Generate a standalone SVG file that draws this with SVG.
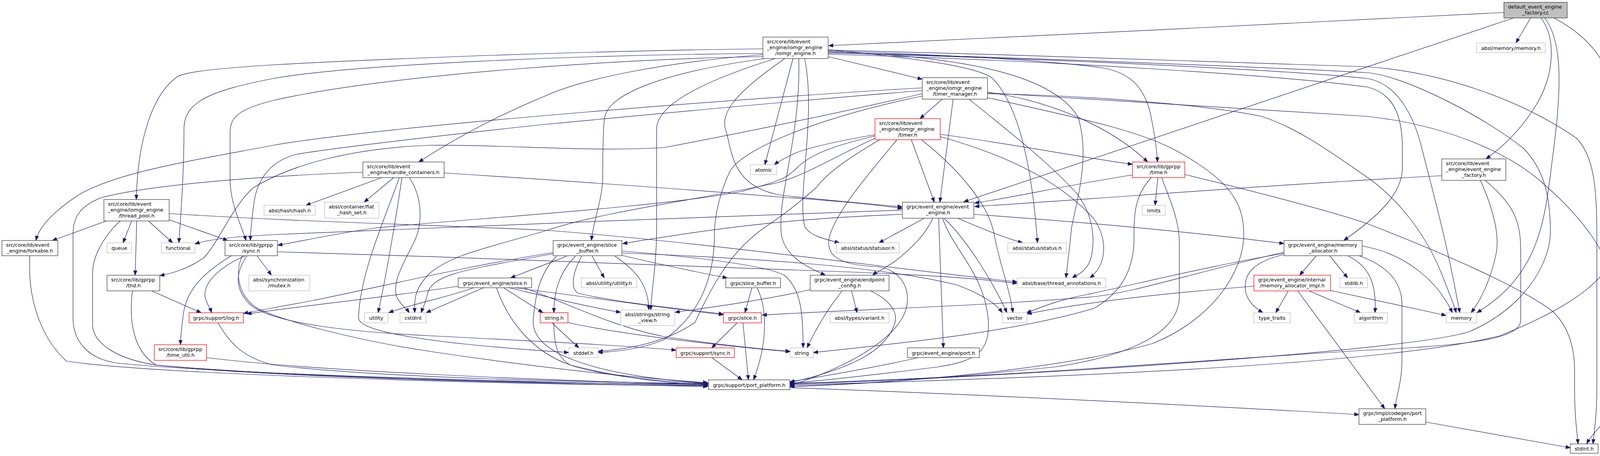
<svg xmlns="http://www.w3.org/2000/svg" width="4203" height="1168" viewBox="0 0 4203 1168">
<defs>
<marker id="ah" markerUnits="userSpaceOnUse" markerWidth="13" markerHeight="10" refX="12" refY="4.5" orient="auto" viewBox="0 0 13 9"><path d="M0,0 L12,4.5 L0,9 z" fill="#191970" stroke="#191970" stroke-width="1"/></marker>
</defs>
<style>
.n rect{fill:#ffffff;stroke:#404040;stroke-width:1.3}
.x rect{stroke:#bfbfbf}
.r rect{stroke:#ff0000}
.root rect{fill:#bfbfbf}
text{font-family:"DejaVu Sans","Liberation Sans",sans-serif;font-size:12.8px;fill:#000000}
.m{text-anchor:middle}
#edges path{fill:none;stroke:#191970;stroke-width:1.2;marker-end:url(#ah)}
</style>
<rect x="0" y="0" width="4203" height="1168" fill="#ffffff"/>
<g id="edges">
<path d="M3850,32 C3400,55 2600,95 2121,117"/>
<path d="M3875,46 C3400,205 2900,370 2467,517"/>
<path d="M3918,46 C3905,70 3892,90 3881,110"/>
<path d="M3945,46 C3985,100 3978,190 3935,265 C3890,340 3835,385 3804,407"/>
<path d="M3954,46 C4005,110 3995,250 3975,400 C3955,560 3945,700 3781,801"/>
<path d="M3978,46 C4100,110 4143,200 4143,350 L4143,600 C4143,700 4040,780 3840,860 C3600,920 3000,960 2022,986"/>
<path d="M2120,145 L2361,203"/>
<path d="M1953,125 C1400,132 900,155 700,166 C560,175 480,183 455,196 C390,240 352,360 349,511"/>
<path d="M1953,137 C1500,140 900,165 700,201 C540,232 471,260 471,330 C471,450 462,560 458,622"/>
<path d="M1953,145 C1600,150 1000,190 700,257 C610,280 589,300 589,340 L589,458 C589,520 615,570 630,616"/>
<path d="M1953,140 C1700,160 1500,200 1400,244 C1280,294 1180,345 1072,415"/>
<path d="M1958,150 C1700,185 1560,240 1548,300 C1543,330 1543,430 1543,458 C1540,520 1520,560 1514,616"/>
<path d="M1985,150 C1760,220 1681,280 1681,330 L1681,584 C1681,680 1668,740 1666,794"/>
<path d="M2030,150 L1958,422"/>
<path d="M2009,150 C1880,240 1840,290 1860,340 C1875,400 1880,480 2000,500 C2100,512 2230,522 2310,530"/>
<path d="M2120,130 C2400,140 2700,155 2830,175 C2900,190 2930,230 2945,290 C2955,340 2962,380 2963,415"/>
<path d="M2120,128 C2600,140 3200,160 3500,171 C3700,185 3900,260 4036,354 C4080,400 4088,480 4088,600 L4088,994 C4088,1060 4082,1100 4078,1137"/>
<path d="M2120,136 C2700,150 3300,180 3500,201 C3580,215 3620,300 3640,380 C3670,500 3700,600 3737,801"/>
<path d="M2120,139 C2700,155 3300,195 3500,223 C3570,240 3590,300 3590,380 L3590,430 C3590,500 3520,560 3440,616"/>
<path d="M2120,127 C2350,150 2500,170 2540,200 C2600,260 2640,400 2656,622"/>
<path d="M2060,150 C2090,300 2040,500 2060,580 C2075,605 2110,612 2149,622"/>
<path d="M2045,150 C2050,350 1990,500 2000,600 C2010,660 2070,685 2113,705"/>
<path d="M2120,132 C2500,145 2700,200 2760,300 C2790,400 2760,500 2743,584 C2738,640 2732,680 2729,712"/>
<path d="M2120,134 C2700,150 3300,175 3500,186 C3600,195 3800,300 3900,380 C3960,440 3969,520 3969,600 C3965,680 3900,790 3760,850 C3600,900 2600,965 2022,984"/>
<path d="M2412,254 L2355,304"/>
<path d="M2440,254 L2406,518"/>
<path d="M2361,225 C2000,245 1000,320 700,372 C500,410 300,440 200,500 C140,540 100,580 92,616"/>
<path d="M2361,232 C2000,260 1600,300 1400,318 C1100,350 850,380 760,395 C700,410 660,450 650,520 C645,560 641,590 641,616"/>
<path d="M2361,240 C2100,300 1900,340 1700,378 C1500,390 1300,370 1100,372 C900,380 750,420 650,480 C600,520 560,620 522,660 C480,690 440,700 409,706"/>
<path d="M2361,246 C2100,300 1900,380 1868,440 C1840,500 1829,560 1829,600 C1829,700 1800,800 1700,870 C1640,895 1580,900 1531,903"/>
<path d="M2528,236 C2700,260 2850,330 2938,415"/>
<path d="M2528,238 C2900,260 3300,285 3500,298 C3700,320 3860,390 3946,466 C4020,530 4143,650 4143,800 L4143,994 C4143,1060 4080,1100 4062,1137"/>
<path d="M2528,240 C2800,245 3100,270 3229,298 C3330,330 3420,400 3500,454 C3580,510 3650,600 3690,700 C3710,750 3722,780 3728,801"/>
<path d="M2482,255 C2600,350 2700,430 2760,500 C2810,570 2800,640 2790,670 C2775,700 2755,705 2745,712"/>
<path d="M2528,250 C2750,300 2900,330 3000,380 C3150,460 3184,520 3184,600 C3184,700 3100,820 2950,880 C2700,950 2300,980 2022,990"/>
<path d="M2240,345 C2150,360 2060,380 2030,395 C2010,405 1995,412 1982,422"/>
<path d="M2240,348 C2150,370 2080,390 2040,430 C2010,460 1990,465 1900,490 C1700,530 1200,560 960,584 C850,600 760,620 711,628"/>
<path d="M2240,354 C2140,400 2060,450 1990,468 C1800,510 1550,540 1400,590 C1250,635 1160,650 1100,700 C1060,740 1060,770 1062,801"/>
<path d="M2252,358 C2180,400 2120,440 2090,480 C2000,560 1950,584 1935,600 C1860,660 1820,740 1779,826 C1700,880 1600,895 1531,900"/>
<path d="M2296,358 C2220,450 2150,530 2125,600 C2110,650 2140,680 2247,683 C2300,690 2325,730 2323,770 C2320,850 2200,930 2022,988"/>
<path d="M2333,358 L2392,518"/>
<path d="M2359,358 C2450,430 2530,520 2545,600 C2560,680 2585,740 2593,801"/>
<path d="M2407,344 C2600,370 2750,400 2899,421"/>
<path d="M2407,350 C2550,390 2700,450 2800,560 C2840,620 2830,680 2790,712"/>
<path d="M2964,455 L2957,526"/>
<path d="M2899,448 C2700,480 2600,505 2495,520"/>
<path d="M3033,447 C3250,500 3420,545 3500,573 C3700,650 3893,736 3973,796 C4010,830 4031,880 4031,950 L4031,1000 C4031,1060 4036,1100 4040,1137"/>
<path d="M2974,455 C2990,500 3019,560 3019,620 L3019,760 C3019,850 2900,910 2700,940 C2400,970 2200,985 2022,990"/>
<path d="M2947,455 C2905,500 2903,550 2903,600 C2905,660 2890,740 2800,790 C2600,850 2300,880 2082,903"/>
<path d="M3691,450 C3300,470 2800,510 2495,529"/>
<path d="M3790,462 C3820,530 3840,600 3830,650 C3815,720 3790,770 3766,801"/>
<path d="M3802,462 C3870,520 3893,560 3893,640 L3893,820 C3893,870 3750,885 3500,897 C3100,920 2600,965 2022,982"/>
<path d="M977,455 L783,526"/>
<path d="M1008,455 L932,518"/>
<path d="M1137,443 C1400,460 1700,480 2000,505 C2150,515 2250,525 2310,534"/>
<path d="M929,441 C700,450 400,470 260,506 C200,530 187,560 187,600 L187,820 C190,880 230,920 300,930 C600,960 1400,980 1812,987"/>
<path d="M1029,455 C1015,550 990,700 968,801"/>
<path d="M1048,455 C1085,510 1080,580 1060,620 C1030,680 1005,720 1015,760 C1025,780 1040,790 1048,801"/>
<path d="M1022,455 C990,550 920,700 918,815 C920,850 1100,880 1456,903"/>
<path d="M272,566 L134,616"/>
<path d="M308,566 C290,580 237,640 237,700 L237,830 C237,880 300,920 400,935 C800,970 1400,982 1812,984"/>
<path d="M337,566 L315,622"/>
<path d="M350,566 L346,705"/>
<path d="M380,566 L442,622"/>
<path d="M433,563 L583,616"/>
<path d="M433,547 C800,570 1100,575 1400,590 C1800,620 2300,690 2604,722"/>
<path d="M76,655 L76,700 C80,800 120,880 170,925 C400,960 1300,985 1812,988"/>
<path d="M658,655 L695,705"/>
<path d="M628,655 C570,680 520,720 525,760 C530,780 538,790 542,801"/>
<path d="M592,655 C520,700 480,740 470,800 C465,840 462,860 462,883"/>
<path d="M632,655 C602,700 600,740 640,780 C700,830 900,850 1100,860 C1400,875 1600,885 1731,897"/>
<path d="M620,655 C600,700 610,760 660,790 C720,820 900,870 1100,900 C1400,945 1650,970 1812,980"/>
<path d="M710,645 C1200,660 1800,680 2100,694 C2350,702 2500,712 2604,726"/>
<path d="M388,745 L515,801"/>
<path d="M339,745 C330,820 340,900 400,935 C700,968 1400,982 1812,990"/>
<path d="M558,827 C590,880 620,915 700,935 C1000,970 1500,978 1812,983"/>
<path d="M529,916 C800,950 1400,975 1812,985"/>
<path d="M1451,656 C1430,665 1400,675 1307,712"/>
<path d="M1473,656 C1430,700 1418,750 1418,801"/>
<path d="M1489,656 C1465,700 1460,740 1480,751 C1600,780 1800,796 1852,805"/>
<path d="M1516,656 L1547,712"/>
<path d="M1574,656 C1640,700 1660,740 1661,794"/>
<path d="M1592,654 C1700,680 1800,700 1862,712"/>
<path d="M1592,643 C1800,660 1960,680 2008,705 C2050,740 2056,800 2056,891"/>
<path d="M1416,647 C1200,680 950,740 800,770 C720,785 660,795 623,803"/>
<path d="M1416,650 C1200,690 1110,700 1095,750 C1090,775 1082,790 1078,801"/>
<path d="M1425,656 C1380,700 1370,760 1365,820 C1360,900 1500,960 1812,982"/>
<path d="M1592,648 C1900,660 2250,680 2450,730 C2530,760 2555,785 2566,801"/>
<path d="M1173,733 C1000,760 800,780 632,804"/>
<path d="M1213,737 C1150,760 1050,780 995,801"/>
<path d="M1238,737 L1091,801"/>
<path d="M1271,737 C1300,820 1360,900 1460,935 C1600,970 1700,980 1812,986"/>
<path d="M1289,737 L1390,801"/>
<path d="M1303,737 C1400,760 1500,785 1589,800"/>
<path d="M1316,737 C1500,760 1700,790 1852,806"/>
<path d="M1340,737 C1440,770 1560,835 1700,862 C1850,885 1960,895 2023,900"/>
<path d="M1413,827 L1482,891"/>
<path d="M1418,827 C1418,880 1425,915 1460,935 C1550,965 1700,978 1812,982"/>
<path d="M1454,826 C1600,860 1900,890 2023,901"/>
<path d="M1887,827 L1822,891"/>
<path d="M1902,827 L1916,973"/>
<path d="M1925,737 L1907,801"/>
<path d="M1938,737 C1965,790 1965,880 1929,973"/>
<path d="M1822,916 L1900,973"/>
<path d="M2366,559 L2250,622"/>
<path d="M2388,559 C2370,600 2330,640 2290,670 C2260,690 2240,700 2234,705"/>
<path d="M2403,559 L2415,891"/>
<path d="M2413,559 C2440,640 2520,700 2530,820 C2535,900 2500,925 2400,940 C2200,965 2100,975 2022,982"/>
<path d="M2417,559 C2480,620 2540,720 2578,801"/>
<path d="M2452,559 C2500,580 2560,605 2618,622"/>
<path d="M2493,549 C2800,570 3100,600 3287,624"/>
<path d="M2310,538 C1900,550 1100,585 700,601 C600,606 530,614 499,625"/>
<path d="M2310,549 C2000,560 1800,590 1594,624"/>
<path d="M2074,742 C1950,770 1800,790 1728,800"/>
<path d="M2180,745 L2194,801"/>
<path d="M2156,745 C2120,790 2090,840 2066,891"/>
<path d="M2229,745 C2280,770 2300,800 2290,830 C2270,890 2200,940 2022,980"/>
<path d="M2350,916 C2250,940 2100,965 2022,978"/>
<path d="M3287,649 C3100,680 2900,730 2780,755 C2700,770 2660,790 2628,801"/>
<path d="M3287,652 C3210,670 3185,700 3188,740 C3190,770 3215,790 3233,801"/>
<path d="M3369,656 L3327,705"/>
<path d="M3405,656 L3450,712"/>
<path d="M3452,656 C3500,680 3525,720 3520,801"/>
<path d="M3479,655 C3550,680 3589,720 3589,780 L3589,920 C3589,980 3575,1010 3571,1047"/>
<path d="M3487,630 C3600,650 3680,720 3718,801"/>
<path d="M3287,646 C3050,700 2900,750 2800,760 C2500,785 2200,792 1951,807"/>
<path d="M3210,733 C3000,750 2800,770 2629,804"/>
<path d="M3298,745 L3266,801"/>
<path d="M3322,745 L3545,1047"/>
<path d="M3351,745 L3483,801"/>
<path d="M3406,744 L3702,808"/>
<path d="M3650,1081 L4020,1147"/>
<path d="M2022,993 C2500,1010 3100,1040 3479,1062"/>
</g>
<g id="node0" class="n root"><rect x="3850" y="6" width="162" height="40"/><text x="3860.5" y="21.5">default_event_engine</text><text class="m" x="3931" y="36.5">_factory.cc</text></g>
<g id="node1" class="n x"><rect x="3780" y="110" width="176" height="25"/><text class="m" x="3868" y="127.5">absl/memory/memory.h</text></g>
<g id="node2" class="n"><rect x="1953" y="95" width="167" height="55"/><text x="1963.5" y="111">src/core/lib/event</text><text x="1963.5" y="126">_engine/iomgr_engine</text><text class="m" x="2036.5" y="141">/iomgr_engine.h</text></g>
<g id="node3" class="n"><rect x="2361" y="199" width="167" height="55"/><text x="2371.5" y="215">src/core/lib/event</text><text x="2371.5" y="230">_engine/iomgr_engine</text><text class="m" x="2444.5" y="245">/timer_manager.h</text></g>
<g id="node4" class="n r"><rect x="2240" y="304" width="167" height="54"/><text x="2250.5" y="320">src/core/lib/event</text><text x="2250.5" y="335">_engine/iomgr_engine</text><text class="m" x="2323.5" y="350">/timer.h</text></g>
<g id="node5" class="n r"><rect x="2899" y="415" width="134" height="40"/><text x="2909.5" y="430.5">src/core/lib/gprpp</text><text class="m" x="2966" y="445.5">/time.h</text></g>
<g id="node6" class="n"><rect x="3691" y="407" width="164" height="55"/><text x="3701.5" y="423">src/core/lib/event</text><text x="3701.5" y="438">_engine/event_engine</text><text class="m" x="3773" y="453">_factory.h</text></g>
<g id="node7" class="n"><rect x="929" y="415" width="208" height="40"/><text x="939.5" y="430.5">src/core/lib/event</text><text class="m" x="1033" y="445.5">_engine/handle_containers.h</text></g>
<g id="node8" class="n x"><rect x="1921" y="422" width="67" height="25"/><text class="m" x="1954.5" y="439.5">atomic</text></g>
<g id="node9" class="n"><rect x="266" y="511" width="167" height="55"/><text x="276.5" y="527">src/core/lib/event</text><text x="276.5" y="542">_engine/iomgr_engine</text><text class="m" x="349.5" y="557">/thread_pool.h</text></g>
<g id="node10" class="n x"><rect x="676" y="526" width="131" height="25"/><text class="m" x="741.5" y="543.5">absl/hash/hash.h</text></g>
<g id="node11" class="n x"><rect x="831" y="518" width="139" height="41"/><text x="841.5" y="533.5">absl/container/flat</text><text class="m" x="900.5" y="548.5">_hash_set.h</text></g>
<g id="node12" class="n"><rect x="2310" y="518" width="183" height="41"/><text x="2320.5" y="533.5">grpc/event_engine/event</text><text class="m" x="2401.5" y="548.5">_engine.h</text></g>
<g id="node13" class="n x"><rect x="2924" y="526" width="59" height="25"/><text class="m" x="2953.5" y="543.5">limits</text></g>
<g id="node14" class="n"><rect x="5" y="616" width="143" height="39"/><text x="15.5" y="631.5">src/core/lib/event</text><text class="m" x="76.5" y="646.5">_engine/forkable.h</text></g>
<g id="node15" class="n x"><rect x="274" y="622" width="63" height="26"/><text class="m" x="305.5" y="639.5">queue</text></g>
<g id="node16" class="n x"><rect x="413" y="622" width="86" height="26"/><text class="m" x="456" y="639.5">functional</text></g>
<g id="node17" class="n"><rect x="576" y="616" width="134" height="39"/><text x="586.5" y="631.5">src/core/lib/gprpp</text><text class="m" x="643" y="646.5">/sync.h</text></g>
<g id="node18" class="n"><rect x="1416" y="616" width="176" height="39"/><text x="1426.5" y="631.5">grpc/event_engine/slice</text><text class="m" x="1504" y="646.5">_buffer.h</text></g>
<g id="node19" class="n x"><rect x="2141" y="622" width="161" height="26"/><text class="m" x="2221.5" y="639.5">absl/status/statusor.h</text></g>
<g id="node20" class="n x"><rect x="2580" y="622" width="150" height="26"/><text class="m" x="2655" y="639.5">absl/status/status.h</text></g>
<g id="node21" class="n"><rect x="3287" y="616" width="200" height="39"/><text x="3297.5" y="631.5">grpc/event_engine/memory</text><text class="m" x="3387" y="646.5">_allocator.h</text></g>
<g id="node22" class="n"><rect x="274" y="705" width="135" height="40"/><text x="284.5" y="720.5">src/core/lib/gprpp</text><text class="m" x="341.5" y="735.5">/thd.h</text></g>
<g id="node23" class="n x"><rect x="637" y="705" width="156" height="40"/><text x="647.5" y="720.5">absl/synchronization</text><text class="m" x="715" y="735.5">/mutex.h</text></g>
<g id="node24" class="n"><rect x="1173" y="712" width="188" height="25"/><text class="m" x="1267" y="729.5">grpc/event_engine/slice.h</text></g>
<g id="node25" class="n x"><rect x="1488" y="712" width="142" height="25"/><text class="m" x="1559" y="729.5">absl/utility/utility.h</text></g>
<g id="node26" class="n"><rect x="1858" y="712" width="140" height="25"/><text class="m" x="1928" y="729.5">grpc/slice_buffer.h</text></g>
<g id="node27" class="n"><rect x="2074" y="705" width="202" height="40"/><text x="2084.5" y="720.5">grpc/event_engine/endpoint</text><text class="m" x="2175" y="735.5">_config.h</text></g>
<g id="node28" class="n x"><rect x="2604" y="712" width="227" height="25"/><text class="m" x="2717.5" y="729.5">absl/base/thread_annotations.h</text></g>
<g id="node29" class="n r"><rect x="3210" y="705" width="196" height="40"/><text x="3220.5" y="720.5">grpc/event_engine/internal</text><text class="m" x="3308" y="735.5">/memory_allocator_impl.h</text></g>
<g id="node30" class="n x"><rect x="3430" y="712" width="71" height="25"/><text class="m" x="3465.5" y="729.5">stdlib.h</text></g>
<g id="node31" class="n r"><rect x="484" y="801" width="139" height="26"/><text class="m" x="553.5" y="818.5">grpc/support/log.h</text></g>
<g id="node32" class="n x"><rect x="933" y="801" width="60" height="26"/><text class="m" x="963" y="818.5">utility</text></g>
<g id="node33" class="n x"><rect x="1024" y="801" width="67" height="26"/><text class="m" x="1057.5" y="818.5">cstdint</text></g>
<g id="node34" class="n r"><rect x="1383" y="801" width="71" height="26"/><text class="m" x="1418.5" y="818.5">string.h</text></g>
<g id="node35" class="n x"><rect x="1589" y="794" width="138" height="40"/><text x="1599.5" y="809.5">absl/strings/string</text><text class="m" x="1658" y="824.5">_view.h</text></g>
<g id="node36" class="n r"><rect x="1852" y="801" width="97" height="26"/><text class="m" x="1900.5" y="818.5">grpc/slice.h</text></g>
<g id="node37" class="n x"><rect x="2125" y="801" width="151" height="26"/><text class="m" x="2200.5" y="818.5">absl/types/variant.h</text></g>
<g id="node38" class="n x"><rect x="2566" y="801" width="63" height="26"/><text class="m" x="2597.5" y="818.5">vector</text></g>
<g id="node39" class="n x"><rect x="3210" y="801" width="93" height="26"/><text class="m" x="3256.5" y="818.5">type_traits</text></g>
<g id="node40" class="n x"><rect x="3467" y="801" width="85" height="26"/><text class="m" x="3509.5" y="818.5">algorithm</text></g>
<g id="node41" class="n x"><rect x="3702" y="801" width="78" height="26"/><text class="m" x="3741" y="818.5">memory</text></g>
<g id="node42" class="n r"><rect x="395" y="883" width="134" height="40"/><text x="405.5" y="898.5">src/core/lib/gprpp</text><text class="m" x="462" y="913.5">/time_util.h</text></g>
<g id="node43" class="n x"><rect x="1456" y="891" width="75" height="25"/><text class="m" x="1493.5" y="908.5">stddef.h</text></g>
<g id="node44" class="n r"><rect x="1731" y="891" width="149" height="25"/><text class="m" x="1805.5" y="908.5">grpc/support/sync.h</text></g>
<g id="node45" class="n x"><rect x="2023" y="891" width="59" height="25"/><text class="m" x="2052.5" y="908.5">string</text></g>
<g id="node46" class="n"><rect x="2323" y="891" width="184" height="25"/><text class="m" x="2415" y="908.5">grpc/event_engine/port.h</text></g>
<g id="node47" class="n"><rect x="1814" y="973" width="208" height="25"/><text class="m" x="1918" y="990.5">grpc/support/port_platform.h</text></g>
<g id="node48" class="n"><rect x="3479" y="1047" width="171" height="40"/><text x="3489.5" y="1062.5">grpc/impl/codegen/port</text><text class="m" x="3564.5" y="1077.5">_platform.h</text></g>
<g id="node49" class="n"><rect x="4020" y="1137" width="71" height="24"/><text class="m" x="4055.5" y="1154">stdint.h</text></g>
</svg>
